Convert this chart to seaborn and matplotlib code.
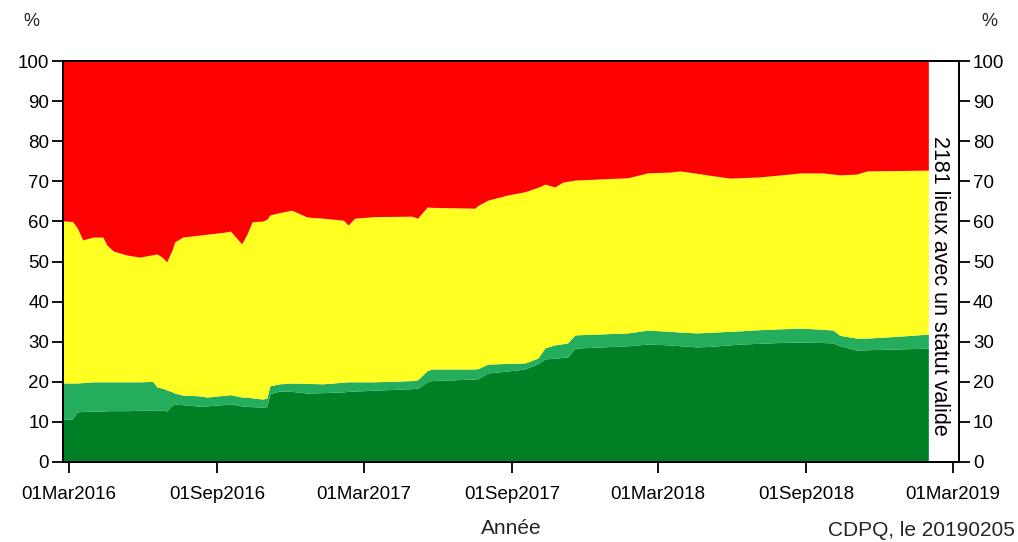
import matplotlib
matplotlib.use("Agg")
import matplotlib.pyplot as plt
import matplotlib.dates as mdates
import numpy as np
import pandas as pd
import seaborn as sns

# ---- data (percent of sites per status) ----
dates = [
    "2016-02-23", "2016-03-05", "2016-03-11", "2016-03-18", "2016-03-31", "2016-04-12",
    "2016-04-17", "2016-04-25", "2016-05-12", "2016-05-28", "2016-06-13", "2016-06-18",
    "2016-06-25", "2016-06-30", "2016-07-07", "2016-07-10", "2016-07-20", "2016-08-10",
    "2016-08-19", "2016-09-13", "2016-09-17", "2016-10-01", "2016-10-08", "2016-10-14",
    "2016-10-27", "2016-11-01", "2016-11-05", "2016-11-17", "2016-12-02", "2016-12-21",
    "2017-01-10", "2017-02-04", "2017-02-10", "2017-02-18", "2017-03-15", "2017-04-30",
    "2017-05-07", "2017-05-19", "2017-05-25", "2017-07-17", "2017-07-21", "2017-08-02",
    "2017-08-27", "2017-09-17", "2017-10-03", "2017-10-12", "2017-10-24", "2017-11-03",
    "2017-11-09", "2017-11-18", "2018-01-23", "2018-02-16", "2018-03-16", "2018-03-28",
    "2018-04-18", "2018-05-01", "2018-05-29", "2018-06-10", "2018-07-05", "2018-08-11",
    "2018-08-24", "2018-09-21", "2018-10-04", "2018-10-12", "2018-11-02", "2018-11-15",
    "2018-12-27", "2019-01-30",
]
vert_fonce = [
    10.7, 10.7, 12.5, 12.6, 12.7, 12.7, 12.8, 12.8, 12.8, 12.9, 13.0, 13.0,
    12.9, 12.7, 14.2, 14.4, 14.3, 13.9, 14.0, 14.4, 14.5, 14.0, 13.9, 13.8,
    13.7, 13.8, 17.0, 17.7, 17.6, 17.2, 17.3, 17.5, 17.6, 17.7, 17.9, 18.3,
    18.4, 20.0, 20.3, 20.7, 20.8, 22.2, 22.7, 23.2, 24.5, 25.7, 25.9, 26.1,
    26.2, 28.4, 29.0, 29.4, 29.2, 29.0, 28.7, 28.8, 29.2, 29.4, 29.6, 29.9,
    29.9, 29.8, 29.7, 29.0, 27.9, 28.0, 28.2, 28.4,
]
vert_clair = [
    9.0, 9.0, 7.2, 7.2, 7.3, 7.3, 7.2, 7.2, 7.2, 7.1, 7.1, 5.7,
    5.5, 5.3, 3.3, 2.8, 2.4, 2.6, 2.2, 2.3, 2.3, 2.2, 2.3, 2.2,
    2.0, 2.1, 2.0, 1.8, 2.1, 2.4, 2.2, 2.4, 2.4, 2.3, 2.1, 2.0,
    2.1, 2.8, 2.9, 2.5, 2.5, 2.2, 1.9, 1.5, 1.4, 2.8, 3.3, 3.4,
    3.5, 3.3, 3.2, 3.5, 3.4, 3.4, 3.5, 3.5, 3.4, 3.3, 3.4, 3.4,
    3.5, 3.3, 3.2, 2.6, 3.0, 2.9, 3.2, 3.5,
]
jaune = [
    40.4, 40.3, 38.8, 35.6, 36.1, 36.1, 34.1, 32.6, 31.6, 31.1, 31.6, 33.2,
    32.6, 31.9, 35.5, 37.7, 39.4, 40.1, 40.6, 40.7, 40.8, 38.2, 40.8, 43.9,
    44.4, 44.6, 42.6, 42.7, 43.1, 41.5, 41.3, 40.4, 39.1, 40.8, 41.2, 41.0,
    40.3, 40.8, 40.3, 40.1, 40.7, 40.9, 42.0, 42.7, 42.6, 40.8, 39.4, 40.3,
    40.3, 38.6, 38.7, 39.2, 39.7, 40.2, 39.8, 39.3, 38.2, 38.2, 38.1, 38.5,
    38.7, 39.0, 38.9, 40.0, 40.9, 41.7, 41.3, 40.9,
]
rouge = [
    39.9, 40.0, 41.5, 44.6, 43.9, 43.9, 45.9, 47.4, 48.4, 48.9, 48.3, 48.1,
    49.0, 50.1, 47.0, 45.1, 43.9, 43.4, 43.2, 42.6, 42.4, 45.6, 43.0, 40.1,
    39.9, 39.5, 38.4, 37.8, 37.2, 38.9, 39.2, 39.7, 40.9, 39.2, 38.8, 38.7,
    39.2, 36.4, 36.5, 36.7, 36.0, 34.7, 33.4, 32.6, 31.5, 30.7, 31.4, 30.2,
    30.0, 29.7, 29.1, 27.9, 27.7, 27.4, 28.0, 28.4, 29.2, 29.1, 28.9, 28.2,
    27.9, 27.9, 28.2, 28.4, 28.2, 27.4, 27.3, 27.2,
]
tick_dates = ["2016-03-01", "2016-09-01", "2017-03-01", "2017-09-01",
              "2018-03-01", "2018-09-01", "2019-03-01"]
y_ticks = [0, 10, 20, 30, 40, 50, 60, 70, 80, 90, 100]
note_text = "2181 lieux avec un statut valide"
x_label = "Année"
source_text = "CDPQ, le 20190205"

colors = ["#008024", "#25ad5e", "#ffff22", "#ff0000"]

sns.set_theme(style="ticks")
plt.rcParams["font.family"] = ["Liberation Sans", "DejaVu Sans"]

df = pd.DataFrame({"date": pd.to_datetime(dates), "vert_fonce": vert_fonce,
                   "vert_clair": vert_clair, "jaune": jaune, "rouge": rouge})
cols = ["vert_fonce", "vert_clair", "jaune", "rouge"]
cum = df[cols].cumsum(axis=1)

fig = plt.figure(figsize=(10.18, 5.42), dpi=100)
ax = fig.add_axes([63 / 1018, 1 - 462 / 542, (959 - 63) / 1018, (462 - 61) / 542])

lower = np.zeros(len(df))
for c, col in zip(cols, colors):
    upper = cum[c].values
    ax.fill_between(df["date"], lower, upper, color=col, linewidth=0)
    sns.lineplot(x=df["date"], y=upper, ax=ax, color=col, linewidth=0.0)
    lower = upper

ax.set_xlim(pd.Timestamp("2016-02-22 14:00"), pd.Timestamp("2019-03-09"))
ax.set_ylim(0, 100)
ax.set_xticks(pd.to_datetime(tick_dates))
ax.xaxis.set_major_formatter(mdates.DateFormatter("%d%b%Y"))
ax.set_yticks(y_ticks)
ax.set_ylabel("")
ax.set_xlabel(x_label, fontsize=15, labelpad=12)
for s in ax.spines.values():
    s.set_color("black")
    s.set_linewidth(1.3)
ax.tick_params(axis="both", labelsize=13.5, length=8, width=1.3, color="black",
               labelcolor="black", direction="out")
ax.tick_params(axis="x", pad=9)
ax.tick_params(axis="y", pad=2)

ax2 = ax.twinx()
ax2.set_ylim(0, 100)
ax2.set_yticks(y_ticks)
ax2.tick_params(axis="y", labelsize=13.5, length=8, width=1.3, color="black",
                labelcolor="black", direction="out", pad=2)
for s in ax2.spines.values():
    s.set_color("black")
    s.set_linewidth(1.3)

ax.text(pd.Timestamp("2019-02-13"), 44, note_text, rotation=-90, ha="center",
        va="center", fontsize=15.5, color="black")

fig.text(31 / 1018, 1 - 22 / 542, "%", ha="center", va="center", fontsize=13)
fig.text(989 / 1018, 1 - 22 / 542, "%", ha="center", va="center", fontsize=13)
fig.text(1015 / 1018, 1 - 530 / 542, source_text, ha="right", va="center", fontsize=15)

fig.savefig("out.png", dpi=100)
